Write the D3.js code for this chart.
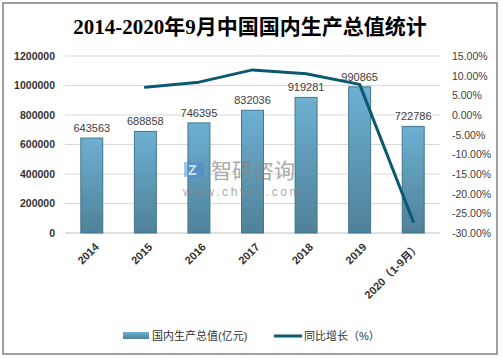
<!DOCTYPE html>
<html>
<head>
<meta charset="utf-8">
<script src="https://cdn.jsdelivr.net/npm/d3@7"></script>
<style>
  body { margin: 0; background: #fff; }
  svg text { font-family: "Liberation Sans", "Noto Sans CJK SC", sans-serif; }
</style>
</head>
<body>
<div id="chart"></div>
<script>
// data
const years = ["2014", "2015", "2016", "2017", "2018", "2019", "2020（1-9月）"];
const gdp = [643563, 688858, 746395, 832036, 919281, 990865, 722786];
const growth = [null, 7.04, 8.35, 11.47, 10.49, 7.79, -27.06];
const leftTicks = [0, 200000, 400000, 600000, 800000, 1000000, 1200000];
const rightTicks = [15, 10, 5, 0, -5, -10, -15, -20, -25, -30];

const W = 503, H = 359;
const margin = {top: 56, right: 63, bottom: 126, left: 65};
const plotW = W - margin.left - margin.right;
const plotH = H - margin.top - margin.bottom;

const svg = d3.select("#chart").append("svg")
    .attr("width", W)
    .attr("height", H);

// gradient for the bars
const defs = svg.append("defs");
const grad = defs.append("linearGradient")
    .attr("id", "barGrad")
    .attr("x1", 0).attr("y1", 0).attr("x2", 0).attr("y2", 1);
grad.append("stop").attr("offset", "0%").attr("stop-color", "#6db0d2");
grad.append("stop").attr("offset", "100%").attr("stop-color", "#4f8199");

// outer frame
svg.append("rect")
    .attr("x", 3).attr("y", 3)
    .attr("width", 494).attr("height", 351)
    .attr("fill", "none")
    .attr("stroke", "#808080")
    .attr("stroke-width", 1.5);

// title
svg.append("text")
    .attr("x", 250).attr("y", 34)
    .attr("text-anchor", "middle")
    .style("font-family", "'Liberation Serif', 'Noto Sans CJK SC', serif")
    .style("font-size", "21px")
    .style("font-weight", "bold")
    .attr("fill", "#000")
    .text("2014-2020年9月中国国内生产总值统计");

const g = svg.append("g")
    .attr("transform", `translate(${margin.left},${margin.top})`);

const x = d3.scaleBand().domain(years).range([0, plotW]).paddingInner(0.59).paddingOuter(0.295);
const y = d3.scaleLinear().domain([0, 1200000]).range([plotH, 0]);
const y2 = d3.scaleLinear().domain([-30, 15]).range([plotH, 0]);

// gridlines
g.append("g")
    .selectAll("line")
    .data(leftTicks.filter(d => d > 0))
    .join("line")
    .attr("x1", 0).attr("x2", plotW)
    .attr("y1", d => y(d)).attr("y2", d => y(d))
    .attr("stroke", "#d9d9d9");

g.append("line")
    .attr("x1", 0).attr("x2", plotW)
    .attr("y1", plotH).attr("y2", plotH)
    .attr("stroke", "#bfbfbf");

// left axis
const yAxis = g.append("g")
    .call(d3.axisLeft(y).tickValues(leftTicks).tickSize(0).tickPadding(10).tickFormat(d3.format("d")));
yAxis.select(".domain").remove();
yAxis.selectAll("text")
    .style("font-size", "10.5px")
    .style("font-weight", "bold")
    .attr("fill", "#333");

// right axis
const y2Axis = g.append("g")
    .attr("transform", `translate(${plotW},0)`)
    .call(d3.axisRight(y2).tickValues(rightTicks).tickSize(0).tickPadding(12).tickFormat(d => d.toFixed(2) + "%"));
y2Axis.select(".domain").remove();
y2Axis.selectAll("text")
    .style("font-size", "10.5px")
    .attr("fill", "#404040");

// x labels
g.append("g")
    .selectAll("text")
    .data(years)
    .join("text")
    .attr("transform", d => `translate(${x(d) + x.bandwidth() / 2 + 5},${plotH + 12}) rotate(-45)`)
    .attr("text-anchor", "end")
    .attr("dy", "0.35em")
    .style("font-size", "11px")
    .style("font-weight", "bold")
    .attr("fill", "#333")
    .text(d => d);

// bars
g.append("g")
    .selectAll("rect")
    .data(gdp)
    .join("rect")
    .attr("x", (d, i) => x(years[i]))
    .attr("y", d => y(d))
    .attr("width", x.bandwidth())
    .attr("height", d => plotH - y(d))
    .attr("fill", "url(#barGrad)")
    .attr("stroke", "#41768e")
    .attr("stroke-width", 1);

// watermark
const wm = svg.append("g").attr("opacity", 0.7);
wm.append("rect")
    .attr("x", 184).attr("y", 162).attr("width", 20).attr("height", 15)
    .attr("fill", "#4a8ad0").attr("opacity", 0.7);
wm.append("text")
    .attr("x", 188).attr("y", 175)
    .style("font-size", "14px").style("font-weight", "bold")
    .attr("fill", "#fff")
    .text("Z");
wm.append("text")
    .attr("x", 211).attr("y", 178)
    .style("font-size", "21px")
    .attr("fill", "#888")
    .text("智研咨询");
wm.append("text")
    .attr("x", 183).attr("y", 196)
    .style("font-size", "12px")
    .style("letter-spacing", "2.6px")
    .attr("fill", "#888")
    .text("www.chyxx.com");

// data labels
g.append("g")
    .selectAll("text")
    .data(gdp)
    .join("text")
    .attr("x", (d, i) => x(years[i]) + x.bandwidth() / 2)
    .attr("y", d => y(d) - 6)
    .attr("text-anchor", "middle")
    .style("font-size", "11px")
    .attr("fill", "#404040")
    .text(d => d);

// growth line
const line = d3.line()
    .defined(d => d != null)
    .x((d, i) => x(years[i]) + x.bandwidth() / 2)
    .y(d => y2(d));

g.append("path")
    .datum(growth)
    .attr("d", line)
    .attr("fill", "none")
    .attr("stroke", "#0c5871")
    .attr("stroke-width", 3)
    .attr("stroke-linejoin", "round")
    .attr("stroke-linecap", "round");

// legend
const lg = svg.append("g").attr("transform", "translate(0,336)");
lg.append("rect")
    .attr("x", 123).attr("y", -4).attr("width", 26).attr("height", 7)
    .attr("fill", "url(#barGrad)");
lg.append("text")
    .attr("x", 152).attr("y", 0).attr("dy", "0.35em")
    .style("font-size", "11px")
    .attr("fill", "#333")
    .text("国内生产总值(亿元)");
lg.append("line")
    .attr("x1", 274).attr("x2", 302).attr("y1", 0).attr("y2", 0)
    .attr("stroke", "#0c5871").attr("stroke-width", 3);
lg.append("text")
    .attr("x", 304).attr("y", 0).attr("dy", "0.35em")
    .style("font-size", "11px")
    .attr("fill", "#333")
    .text("同比增长（%）");
</script>
</body>
</html>
